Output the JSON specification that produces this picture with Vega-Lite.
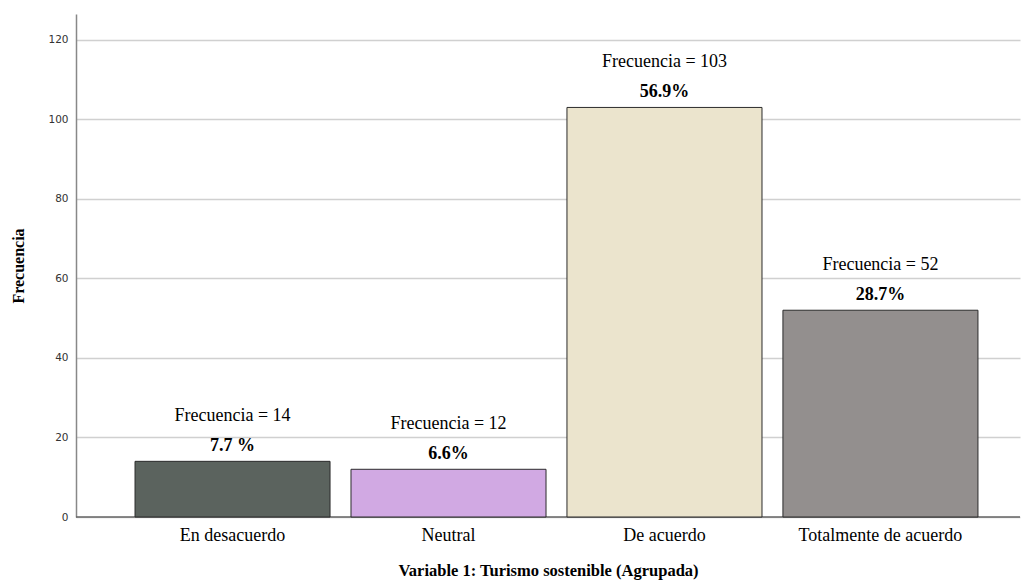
{
  "$schema": "https://vega.github.io/schema/vega-lite/v6.json",
  "width": 944,
  "height": 503,
  "autosize": {"type": "none"},
  "padding": {"left": 76, "top": 14, "right": 3, "bottom": 65},
  "background": "white",
  "data": {"values": [
    {"cat": "En desacuerdo", "freq": 14, "pct": "7.7 %", "lab": "Frecuencia = 14"},
    {"cat": "Neutral", "freq": 12, "pct": "6.6%", "lab": "Frecuencia = 12"},
    {"cat": "De acuerdo", "freq": 103, "pct": "56.9%", "lab": "Frecuencia = 103"},
    {"cat": "Totalmente de acuerdo", "freq": 52, "pct": "28.7%", "lab": "Frecuencia = 52"}
  ]},
  "config": {"view": {"stroke": null}},
  "encoding": {
    "x": {
      "field": "cat", "type": "nominal", "sort": null,
      "scale": {"paddingInner": 0.097, "paddingOuter": 0.234, "align": 0.584},
      "axis": {
        "title": "Variable 1: Turismo sostenible (Agrupada)",
        "titleFont": "Liberation Serif", "titleFontSize": 16.5, "titleFontWeight": "bold", "titleColor": "#000",
        "titlePadding": 18,
        "labelAngle": 0, "labelFont": "Liberation Serif", "labelFontSize": 18, "labelColor": "#000",
        "labelPadding": 9, "ticks": false, "domain": false
      }
    }
  },
  "layer": [
    {
      "mark": {"type": "rule", "color": "#666", "strokeWidth": 1.5},
      "data": {"values": [{"v": 0}]},
      "encoding": {"y": {"field": "v", "type": "quantitative", "scale": {"domain": [0, 126.5]}}, "x": null}
    },
    {
      "mark": {"type": "bar", "stroke": "#2b2b2b", "strokeWidth": 1},
      "encoding": {
        "y": {
          "field": "freq", "type": "quantitative",
          "scale": {"domain": [0, 126.5], "nice": false},
          "axis": {
            "title": "Frecuencia", "titleFont": "Liberation Serif", "titleFontSize": 16, "titleFontWeight": "bold",
            "titleColor": "#000", "titlePadding": 21,
            "values": [0, 20, 40, 60, 80, 100, 120],
            "labelFont": "DejaVu Sans", "labelFontSize": 10.5, "labelColor": "#333", "labelPadding": 8,
            "ticks": false, "domainColor": "#888", "domainWidth": 1.5,
            "grid": true, "gridColor": "#d0d0d0", "gridWidth": 1.5
          }
        },
        "color": {
          "field": "cat", "type": "nominal", "sort": null, "legend": null,
          "scale": {"domain": ["En desacuerdo", "Neutral", "De acuerdo", "Totalmente de acuerdo"],
                    "range": ["#5b635e", "#d1a9e3", "#ebe4cd", "#938f8e"]}
        }
      }
    },
    {
      "mark": {"type": "text", "font": "Liberation Serif", "fontSize": 18, "fontWeight": "bold", "color": "#000", "dy": -15, "baseline": "middle"},
      "encoding": {"y": {"field": "freq", "type": "quantitative"}, "text": {"field": "pct"}}
    },
    {
      "mark": {"type": "text", "font": "Liberation Serif", "fontSize": 18, "color": "#000", "dy": -45, "baseline": "middle"},
      "encoding": {"y": {"field": "freq", "type": "quantitative"}, "text": {"field": "lab"}}
    }
  ]
}
